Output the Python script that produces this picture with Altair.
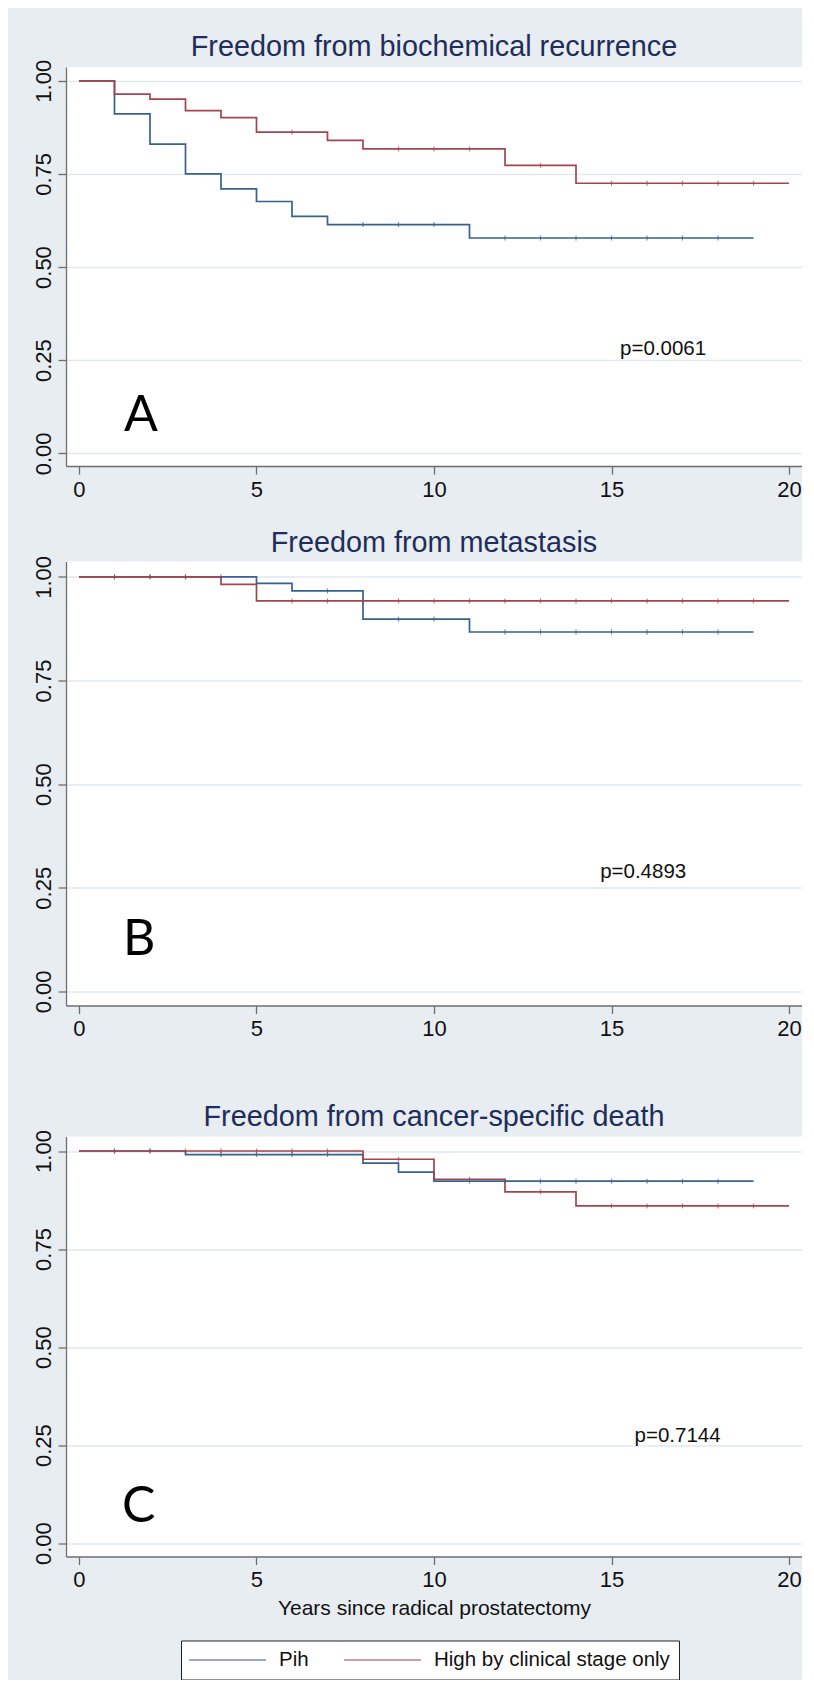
import altair as alt
import pandas as pd

# ---------------- data ----------------
SERIES = ["Pih", "High by clinical stage only"]

# Panel A: Freedom from biochemical recurrence
a_pih_t = [0, 1, 2, 3, 4, 5, 6, 7, 11]
a_pih_s = [1.000, 0.911, 0.830, 0.750, 0.710, 0.676, 0.636, 0.614, 0.578]
a_pih_end = 19
a_high_t = [0, 1, 2, 3, 4, 5, 7, 8, 12, 14]
a_high_s = [1.000, 0.964, 0.951, 0.920, 0.901, 0.862, 0.840, 0.817, 0.773, 0.725]
a_high_end = 20

# Panel B: Freedom from metastasis
b_pih_t = [0, 5, 6, 8, 11]
b_pih_s = [1.000, 0.984, 0.966, 0.898, 0.867]
b_pih_end = 19
b_high_t = [0, 4, 5]
b_high_s = [1.000, 0.982, 0.942]
b_high_end = 20

# Panel C: Freedom from cancer-specific death
c_pih_t = [0, 3, 8, 9, 10]
c_pih_s = [1.000, 0.991, 0.969, 0.946, 0.923]
c_pih_end = 19
c_high_t = [0, 8, 10, 12, 14]
c_high_s = [1.000, 0.979, 0.928, 0.896, 0.860]
c_high_end = 20

titles = ["Freedom from biochemical recurrence", "Freedom from metastasis",
          "Freedom from cancer-specific death"]
pvalues = ["p=0.0061", "p=0.4893", "p=0.7144"]
letters = ["A", "B", "C"]
x_ticks = [0, 5, 10, 15, 20]
y_ticks = [0, 0.25, 0.5, 0.75, 1.0]
x_title = "Years since radical prostatectomy"

# ---------------- style ----------------
FONT = "Liberation Sans"
LETTER_FONT = "Lato"
BG = "#E7EDF1"
GRID = "#E1E9ED"
AXC = "#6E6E6E"
NAVY = "#1F2D5C"
TXT = "#111111"
COLORS = ["#38618E", "#A3454E"]
XDOM = [-0.366, 20.366]
YDOM = [-0.034, 1.037]
W = 736

# annotation anchors (data units)
p_pos = [(15.24, 0.264), (14.68, 0.274), (15.65, 0.2575)]
l_pos = [(1.27, 0.059), (1.24, 0.088), (1.21, 0.055)]


def step_frame(t, s, end, name):
    xs = list(t) + [end]
    ys = list(s) + [s[-1]]
    return pd.DataFrame({"t": xs, "s": ys, "group": name, "order": list(range(len(xs)))})


def censor_frame(t, s, end, name):
    rows = []
    for k in range(1, end):
        if k in t:
            continue
        idx = max(i for i, tt in enumerate(t) if tt <= k)
        rows.append({"t": k, "s": s[idx], "group": name})
    return pd.DataFrame(rows)


def panel(i, pih, high, height, last=False):
    lines = pd.concat([step_frame(*pih, SERIES[0]), step_frame(*high, SERIES[1])])
    cens = pd.concat([censor_frame(*pih, SERIES[0]), censor_frame(*high, SERIES[1])])

    xaxis_kw = dict(values=x_ticks, grid=False, tickSize=8, labelPadding=5,
                    labelFont=FONT, labelFontSize=22, labelColor=TXT,
                    domainColor=AXC, tickColor=AXC, domainWidth=1.3, tickWidth=1.3,
                    labelFlush=False, labelOverlap=False, format="d")
    if last:
        xaxis = alt.Axis(title=x_title, titleFont=FONT, titleFontSize=21,
                         titleFontWeight="normal", titleColor=TXT, titlePadding=7,
                         **xaxis_kw)
    else:
        xaxis = alt.Axis(title=None, **xaxis_kw)
    yaxis = alt.Axis(values=y_ticks, format=".2f", title=None, labelAngle=270,
                     labelAlign="center", labelBaseline="bottom", labelPadding=3,
                     tickSize=8, grid=True, gridColor=GRID, gridWidth=1.5,
                     labelFont=FONT, labelFontSize=22, labelColor=TXT,
                     domainColor=AXC, tickColor=AXC, domainWidth=1.3, tickWidth=1.3,
                     labelFlush=False, labelOverlap=False)

    x_enc = alt.X("t:Q", scale=alt.Scale(domain=XDOM, nice=False, zero=False), axis=xaxis)
    y_enc = alt.Y("s:Q", scale=alt.Scale(domain=YDOM, nice=False, zero=False), axis=yaxis)

    if last:
        legend = alt.Legend(orient="none", legendX=115, legendY=504, direction="horizontal",
                            title=None, symbolType="M-4,0H4", symbolSize=370,
                            symbolStrokeWidth=1.6, symbolOffset=27, labelOffset=41,
                            labelFont=FONT, labelFontSize=20.5, labelColor=TXT,
                            strokeColor="#222222", fillColor="white", padding=9,
                            columnPadding=31, labelLimit=400)
    else:
        legend = None
    color_enc = alt.Color("group:N", scale=alt.Scale(domain=SERIES, range=COLORS),
                          legend=legend)

    line = alt.Chart(lines).mark_line(interpolate="step-after", strokeWidth=1.7).encode(
        x=x_enc, y=y_enc, color=color_enc, order="order:Q")
    ticks = alt.Chart(cens).mark_tick(orient="vertical", size=5, thickness=1.2).encode(
        x=x_enc, y=y_enc, color=color_enc)
    ptxt = alt.Chart(pd.DataFrame({"t": [p_pos[i][0]], "s": [p_pos[i][1]],
                                   "label": [pvalues[i]]})).mark_text(
        align="left", baseline="alphabetic", font=FONT, fontSize=20.5, color=TXT
    ).encode(x=x_enc, y=y_enc, text="label:N")
    ltxt = alt.Chart(pd.DataFrame({"t": [l_pos[i][0]], "s": [l_pos[i][1]],
                                   "label": [letters[i]]})).mark_text(
        align="left", baseline="alphabetic", font=LETTER_FONT, fontSize=50, color="#000000"
    ).encode(x=x_enc, y=y_enc, text="label:N")

    return alt.layer(line, ticks, ptxt, ltxt).properties(
        width=W, height=height,
        title=alt.TitleParams(titles[i], font=FONT, fontSize=28.8, fontWeight="normal",
                              color=NAVY, offset=-31, baseline="bottom", anchor="middle",
                              frame="group"))


pA = panel(0, (a_pih_t, a_pih_s, a_pih_end), (a_high_t, a_high_s, a_high_end), 399)
pB = panel(1, (b_pih_t, b_pih_s, b_pih_end), (b_high_t, b_high_s, b_high_end), 444)
pC = panel(2, (c_pih_t, c_pih_s, c_pih_end), (c_high_t, c_high_s, c_high_end), 420, last=True)

inner = alt.vconcat(pB, pC, spacing=63).resolve_scale(color="independent")
chart = alt.vconcat(pA, inner, spacing=28.5).resolve_scale(color="independent").properties(
    padding={"left": 23, "top": 24, "right": 0, "bottom": 0}
).configure(background=BG).configure_view(fill="white", strokeWidth=0)

chart.save("out.html", embed_options={"renderer": "svg", "actions": False})
